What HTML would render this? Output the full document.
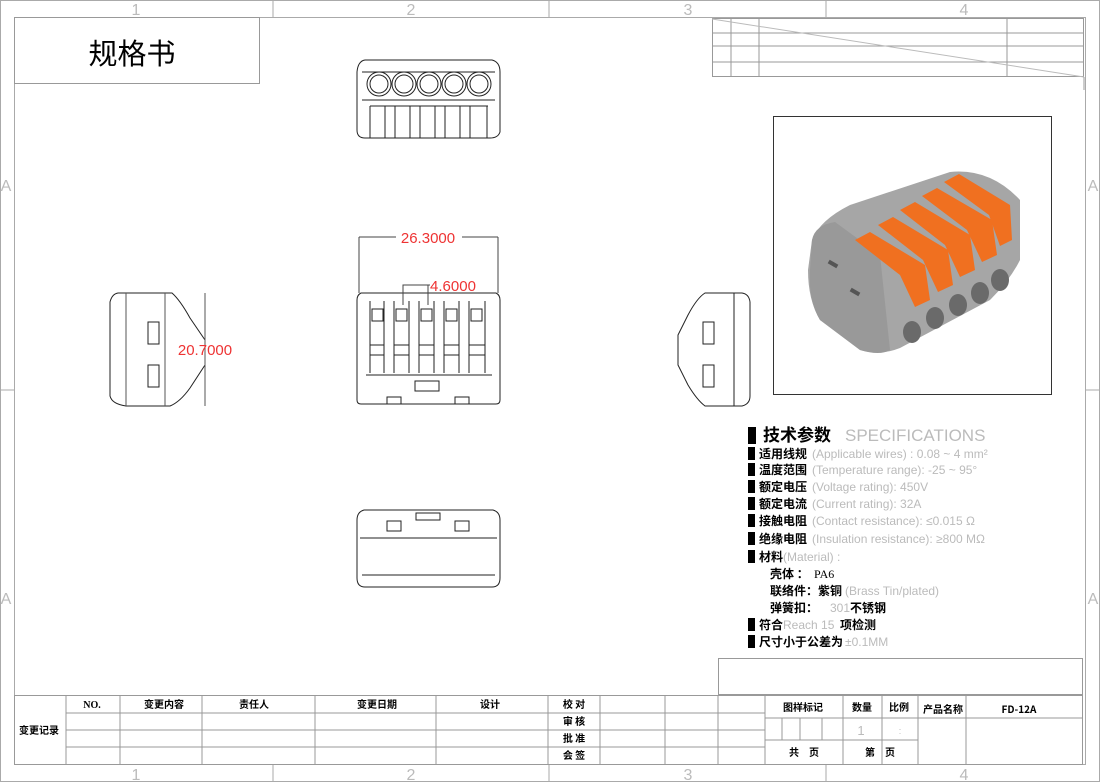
<!DOCTYPE html>
<html><head><meta charset="utf-8"><style>
body{margin:0;background:#fff}
svg{display:block}
.t{font-family:"Liberation Sans","Noto Sans CJK SC",sans-serif}
.cn{font-family:"Noto Sans CJK SC","WenQuanYi Zen Hei",sans-serif;font-weight:bold}
.g{fill:#bbb;font-family:"Liberation Sans",sans-serif}
</style></head><body>
<svg width="1100" height="782" viewBox="0 0 1100 782" xmlns="http://www.w3.org/2000/svg">
<g stroke="#aaa" fill="none" stroke-width="1">
<rect x="0.5" y="0.5" width="1099" height="781"/>
<rect x="14.5" y="17.5" width="1071" height="747"/>
<path d="M273 0V17M549 0V17M826 0V17M273 765V782M549 765V782M826 765V782M0 390H14M1086 390H1100"/>
</g>
<g class="g" font-size="16" text-anchor="middle">
<text x="136" y="15">1</text><text x="411" y="15">2</text><text x="688" y="15">3</text><text x="964" y="15">4</text>
<text x="136" y="780">1</text><text x="411" y="780">2</text><text x="688" y="780">3</text><text x="964" y="780">4</text>
<text x="6" y="191">A</text><text x="6" y="604">A</text><text x="1093" y="191">A</text><text x="1093" y="604">A</text>
</g>
<rect x="14.5" y="17.5" width="245" height="66" fill="none" stroke="#999"/>
<text x="132" y="64" class="cn" font-size="29" text-anchor="middle" style="font-weight:normal">规格书</text>
<g stroke="#999" fill="none">
<rect x="712.5" y="18.5" width="371" height="58"/>
<path d="M712 33H1084M712 46H1084M712 62H1084M731 18V77M759 18V77M1007 18V77"/>
<path d="M712 19L1084 77" stroke="#bbb"/>
<path d="M1084 77V90"/>
</g>
<rect x="773.5" y="116.5" width="278" height="278" fill="#fff" stroke="#333"/>
<g>
<path d="M812 240 Q820 220 850 205 L950 172 Q990 168 1020 200 L1020 260 Q1010 280 990 300 L900 348 Q880 356 860 350 L820 320 Q808 300 808 270Z" fill="#a6a6a6"/>
<path d="M812 240 Q815 225 835 222 L880 255 L890 350 Q880 356 860 350 L820 320 Q808 300 810 270Z" fill="#999"/>
<g fill="#f07020">
<path d="M855 240 L870 232 L925 265 L930 300 L915 307 L900 275Z"/>
<path d="M878 225 L893 217 L948 250 L953 285 L938 292 L923 260Z"/>
<path d="M900 210 L915 202 L970 235 L975 270 L960 277 L945 245Z"/>
<path d="M922 196 L937 188 L992 220 L997 255 L982 262 L967 230Z"/>
<path d="M944 182 L959 174 L1010 205 L1012 240 L1000 246 L989 215Z"/>
</g>
<g fill="#6a6a6a"><ellipse cx="912" cy="332" rx="9" ry="11"/><ellipse cx="935" cy="318" rx="9" ry="11"/><ellipse cx="958" cy="305" rx="9" ry="11"/><ellipse cx="980" cy="293" rx="9" ry="11"/><ellipse cx="1000" cy="280" rx="9" ry="11"/></g>
<rect x="828" y="262" width="10" height="4" fill="#555" transform="rotate(30 833 264)"/>
<rect x="850" y="290" width="10" height="4" fill="#555" transform="rotate(30 855 292)"/>
</g>
<g stroke="#222" fill="none" stroke-width="1">
<path d="M365 60H492Q500 62 500 72V132Q498 138 490 138H365Q357 138 357 130V72Q358 61 365 60Z"/>
<path d="M362 72H495M362 100H495"/>
<g><circle cx="379" cy="84" r="12"/><circle cx="404" cy="84" r="12"/><circle cx="429" cy="84" r="12"/><circle cx="454" cy="84" r="12"/><circle cx="479" cy="84" r="12"/>
<circle cx="379" cy="84" r="9"/><circle cx="404" cy="84" r="9"/><circle cx="429" cy="84" r="9"/><circle cx="454" cy="84" r="9"/><circle cx="479" cy="84" r="9"/></g>
<path d="M370 106H488M370 106V138M385 106V138M395 106V138M410 106V138M420 106V138M435 106V138M445 106V138M460 106V138M470 106V138M487 106V138"/>
</g>
<g stroke="#222" fill="none">
<path d="M361 293H496Q500 295 500 300V400Q500 404 496 404H361Q357 404 357 400V300Q357 295 361 293Z"/>
<path d="M359 237V293M498 237V293" stroke="#444"/>
<path d="M359 237H396M462 237H498" stroke="#444"/>
<path d="M403 305V285H428V305M428 285H430" stroke="#444"/>
<path d="M370 301V373M384 301V373M394 301V373M409 301V373M419 301V373M434 301V373M444 301V373M459 301V373M469 301V373M485 301V373"/>
<path d="M366 375H492"/>
<rect x="372" y="309" width="11" height="12"/><rect x="396" y="309" width="11" height="12"/><rect x="421" y="309" width="11" height="12"/><rect x="446" y="309" width="11" height="12"/><rect x="471" y="309" width="11" height="12"/>
<path d="M370 345H384M394 345H409M419 345H434M444 345H459M469 345H485M370 355H384M394 355H409M419 355H434M444 355H459M469 355H485"/>
<rect x="415" y="381" width="24" height="10"/>
<rect x="387" y="397" width="14" height="7"/><rect x="455" y="397" width="14" height="7"/>
</g>
<text x="428" y="243" fill="#e33" font-size="15" class="t" text-anchor="middle">26.3000</text>
<text x="453" y="291" fill="#e33" font-size="15" class="t" text-anchor="middle">4.6000</text>
<g stroke="#222" fill="none">
<path d="M118 293H172Q180 300 190 318L205 340V365L190 388Q180 402 170 406H126Q112 404 110 396V302Q112 294 118 293Z"/>
<path d="M126 293V406M165 293V406M205 293V406" stroke="#555"/>
<rect x="148" y="322" width="11" height="22"/><rect x="148" y="365" width="11" height="22"/>
</g>
<text x="205" y="355" fill="#e33" font-size="15" class="t" text-anchor="middle">20.7000</text>
<g stroke="#222" fill="none">
<path d="M742 293H705Q697 298 688 315L678 335V365L688 385Q697 400 705 406H742Q750 404 750 396V302Q749 294 742 293Z"/>
<path d="M734 293V406"/>
<rect x="703" y="322" width="11" height="22"/><rect x="703" y="365" width="11" height="22"/>
</g>
<g stroke="#222" fill="none">
<path d="M364 510H493Q500 512 500 520V578Q500 587 492 587H365Q357 587 357 578V520Q357 512 364 510Z"/>
<path d="M360 538H497M362 575H495"/>
<rect x="416" y="513" width="24" height="7"/>
<rect x="387" y="521" width="14" height="10"/><rect x="455" y="521" width="14" height="10"/>
</g>
<g class="cn" font-size="12" fill="#000">
<rect x="748" y="427" width="8" height="17" fill="#000"/>
<text x="763" y="441" font-size="17">技术参数</text>
<text x="845" y="441" font-size="17" class="g" style="font-weight:normal" fill="#bbb">SPECIFICATIONS</text>
<rect x="748" y="447" width="7" height="13"/><text x="759" y="458">适用线规</text>
<rect x="748" y="463" width="7" height="13"/><text x="759" y="474">温度范围</text>
<rect x="748" y="480" width="7" height="13"/><text x="759" y="491">额定电压</text>
<rect x="748" y="497" width="7" height="13"/><text x="759" y="508">额定电流</text>
<rect x="748" y="514" width="7" height="13"/><text x="759" y="525">接触电阻</text>
<rect x="748" y="532" width="7" height="13"/><text x="759" y="543">绝缘电阻</text>
<rect x="748" y="550" width="7" height="13"/><text x="759" y="561">材料</text>
<text x="770" y="578">壳体 ：</text><text x="814" y="578" style="font-weight:normal" font-family="Liberation Serif">PA6</text>
<text x="770" y="595">联络件：紫铜</text>
<text x="770" y="612">弹簧扣：</text><text x="850" y="612">不锈钢</text>
<rect x="748" y="618" width="7" height="13"/><text x="759" y="629">符合</text><text x="840" y="629">项检测</text>
<rect x="748" y="635" width="7" height="13"/><text x="759" y="646">尺寸小于公差为</text>
</g>
<g class="g" font-size="12" fill="#aaa">
<text x="812" y="458">(Applicable wires) : 0.08 ~ 4 mm²</text>
<text x="812" y="474">(Temperature range): -25 ~ 95°</text>
<text x="812" y="491">(Voltage rating): 450V</text>
<text x="812" y="508">(Current rating): 32A</text>
<text x="812" y="525">(Contact resistance): ≤0.015 Ω</text>
<text x="812" y="543">(Insulation resistance): ≥800 MΩ</text>
<text x="783" y="561">(Material) :</text>
<text x="845" y="595">(Brass  Tin/plated)</text>
<text x="830" y="612">301</text>
<text x="783" y="629">Reach  15</text>
<text x="845" y="646">±0.1MM</text>
</g>
<g stroke="#999" fill="none">
<rect x="718.5" y="658.5" width="364" height="36"/>
<rect x="14.5" y="695.5" width="1068" height="69"/>
<path d="M66 695V765M120 695V765M202 695V765M315 695V765M436 695V765M548 695V765M600 695V765M665 695V765M718 695V765M765 695V765"/>
<path d="M66 713H765M66 730H765M66 747H765"/>
<path d="M843 695V765M882 695V765M918 695V765M966 695V765M765 718H918M765 740H918M918 718H1083"/>
<path d="M782 718V740M800 718V740M822 718V740"/>
</g>
<g class="cn" font-size="10" fill="#000" text-anchor="middle">
<text x="39" y="734">变更记录</text>
<text x="92" y="708" font-family="Liberation Serif">NO.</text>
<text x="164" y="708">变更内容</text><text x="254" y="708">责任人</text><text x="377" y="708">变更日期</text><text x="490" y="708">设计</text>
<text x="574" y="708">校 对</text><text x="574" y="725">审 核</text><text x="574" y="742">批 准</text><text x="574" y="759">会 签</text>
<text x="803" y="711">图样标记</text><text x="862" y="711">数量</text><text x="899" y="711">比例</text><text x="943" y="713">产品名称</text><text x="1019" y="713">FD-12A</text>
<text x="804" y="756">共　页</text><text x="880" y="756">第　页</text>
</g>
<text x="861" y="735" class="g" font-size="13" text-anchor="middle">1</text>
<text x="900" y="734" class="g" font-size="9" text-anchor="middle">:</text>
</svg>
</body></html>
